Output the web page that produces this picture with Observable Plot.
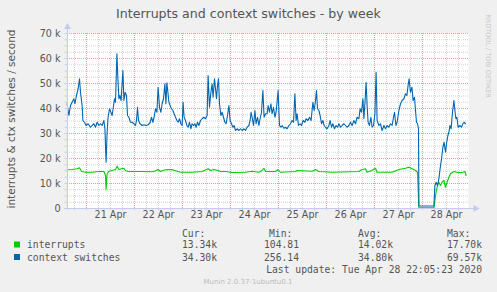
<!DOCTYPE html>
<html><head><meta charset="utf-8">
<script src="https://cdn.jsdelivr.net/npm/d3@7"></script>
<script src="https://cdn.jsdelivr.net/npm/@observablehq/plot@0.6"></script>
<style>
html,body{margin:0;padding:0;background:#f0f0f0;}
#chart{width:497px;height:292px;overflow:hidden}
</style></head><body><div id="chart"></div>
<script>
// hours since 2020-04-20 00:00 UTC, values in thousands per second
const ctxHours = [14.3,15.2,16,16.8,17.7,18.2,19,19.8,20.5,21,21.8,22.2,23,23.8,24.8,26,26.8,27.7,28.5,29.3,30.2,31,31.8,32.7,33.2,33.8,34.3,34.8,35.5,36.2,36.8,37.3,38,38.5,39.2,39.7,40.2,40.7,41.3,42.2,42.7,43.3,44,44.5,45.2,46,46.8,47.7,48.5,49,49.5,50,50.8,51.8,52.8,53.8,54.8,55.8,56.5,57.2,57.8,58.5,59.2,59.8,60.5,61.2,61.8,62.5,63.2,63.7,64.2,64.7,65.2,65.8,66.5,67.2,67.8,68.5,69.2,69.8,70.5,71.2,71.8,72.3,72.8,73.5,74.2,74.8,75.5,76.2,76.8,77.5,78.2,78.8,79.5,80.2,81,81.8,82.7,83.5,84.3,84.8,85.5,86.2,86.8,87.3,88,88.5,89,89.5,90,90.5,91.2,91.8,92.5,93.2,93.8,94.5,95.2,95.8,96.5,97.2,97.8,98.5,99.3,100.2,101,101.8,102.7,103.5,104.3,105.2,105.8,106.3,106.8,107.5,108.2,108.8,109.5,110.2,110.8,111.5,112.2,112.8,113.5,114.3,114.8,115.5,116.2,116.8,117.5,118.2,118.8,119.8,120.5,121.2,121.8,122.7,123.5,124.3,125.2,126,126.8,127.5,128.2,128.8,129.3,130,130.8,131.5,132.3,133.2,133.8,134.7,135.5,136.3,137.2,137.8,138.5,139,139.5,140.2,140.8,141.5,142.2,142.8,143.5,144.3,145.2,145.8,146.5,147.2,148,148.8,149.5,150.2,151,151.8,152.7,153.5,154.3,155.2,156,156.8,157.7,158.5,159.3,160.2,160.8,161.5,162.2,162.7,163.2,163.8,164.3,164.8,165.5,166.2,166.8,167.5,168.2,168.8,169.3,170.2,171,171.8,172.7,173.5,174.3,175.2,176,176.8,177.5,178,178.7,179.3,180.2,181,181.8,182.7,183.5,184.2,184.8,185.3,186,186.7,187.3,188,188.5,189,189.5,190,190.2,197.7,198.2,198.8,199.5,200.2,200.8,201.5,202.2,202.8,203.5,204,204.7,205.2,205.7,206.3,207,207.7,208.2,208.7,209.2,209.8,210.7,211.5,212.2,212.8,213.5];
const ctxValues = [41.9,37.2,41.2,42.5,43.9,41.9,45.2,47.9,51.9,46.5,41.2,35.2,34.5,33.2,33.9,32.5,33.2,33.9,32.5,34.5,33.2,33.9,33.2,35.2,31.9,18.5,30.5,36.5,39.9,38.5,37.2,39.9,43.9,42.5,61.9,51.9,43.9,45.2,43.2,55.2,43.2,46.5,45.2,37.2,36.5,34.5,34.5,33.9,33.2,35.2,40.5,35.2,33.9,33.2,33.5,33.2,33.5,34.3,36.5,34.5,36.5,39.9,38.5,48.5,40.5,38.5,41.9,43.9,49.9,41.9,50.3,46.5,42.5,41.2,39.9,39.2,37.9,36.5,35.2,34.5,35.9,33.9,33.2,42.5,36.5,35.2,33.2,32.5,34.5,31.9,33.9,33.2,33.9,32.5,34.5,33.2,35.2,35.9,36.5,35.9,37.2,53.2,40.5,46.5,49.9,44.5,51.9,47.9,43.9,49.2,51.9,41.9,37.2,38.5,36.5,34.5,33.9,37.2,41.2,35.2,33.9,32.5,33.2,31.2,31.9,31.2,31.9,31.2,31.9,31.2,32.5,33.2,35.2,38.5,36.5,33.2,39.2,33.9,36.5,33.2,35.9,38.5,47.2,36.5,37.9,37.9,41.2,38.5,41.9,37.9,40.5,36.5,38.5,47.2,33.2,32.5,33.2,32.1,32.5,31.9,33.2,33.9,35.2,34.5,45.9,35.2,37.9,33.2,33.9,33.2,35.2,34.5,35.9,35.2,36.5,35.2,42.5,39.2,43.2,47.2,39.9,39.2,37.2,33.9,35.2,33.2,32.5,31.9,33.2,35.2,32.5,33.9,31.9,33.2,32.5,33.9,32.5,33.2,33.9,33.2,32.5,33.2,34.5,33.2,35.2,33.9,36.5,35.9,39.9,38.5,43.9,35.9,41.9,50.5,41.2,34.5,33.2,36.5,32.5,33.2,37.9,54.5,35.2,33.2,33.9,31.2,33.2,31.9,33.2,32.5,33.9,33.2,36.5,38.5,33.2,34.5,39.2,41.9,43.2,43.9,45.9,45.2,49.2,51.9,46.5,48.5,43.2,44.5,39.2,34.5,33.9,31.9,1.0,1.0,9.2,10.5,9.2,11.9,15.9,19.9,24.5,26.5,22.5,25.9,29.2,30.5,33.2,31.9,38.5,43.2,39.2,35.9,36.5,32.5,33.2,32.5,33.9,34.5,33.9];
const intHours = [14.3,16.8,19.3,20.5,21.5,23.5,26.8,30.2,32.7,33.5,33.8,34.3,35.2,36.8,38.5,39.3,40.2,41.5,42.7,43.5,45.2,50.2,56.8,58.5,59.8,61,63.5,66.8,68.5,71,76.8,81.8,84.8,86,87.7,89.3,91,93.5,96.8,103.5,106.8,110.2,111.8,112.7,113.5,118.5,119.8,121,128.5,129.3,136.8,138.5,140.2,146.8,160.2,161.5,163.5,164.3,166.5,168.5,169.3,176.8,180.2,183.5,185.2,186.8,188.5,189.5,190.2,197.7,198.2,198.8,199.5,200.2,201,201.8,202.7,203.5,204.3,205.2,206,207.7,209.3,211,212.2,213.2,213.8];
const intValues = [15.5,15.6,15.9,16.3,14.8,14.5,14.5,14.8,14.8,13.2,7.6,13.9,14.9,15.2,15.6,16.9,15.6,15.9,16.1,15.1,14.8,14.8,14.7,15.1,15.6,14.8,15.5,15.6,15.1,14.5,14.5,14.8,15.9,15.2,15.6,15.3,14.8,14.8,14.4,14.5,14.9,14.5,15.2,16.1,14.8,14.8,15.6,14.5,14.8,15.2,14.9,15.6,14.8,14.5,14.8,15.5,15.9,14.5,15.2,16.1,14.5,14.5,15.6,16.1,16.5,15.9,15.2,14.5,0.3,0.3,3.2,6.5,9.2,10.5,9.2,10.5,11.2,8.5,10.5,12.5,13.9,14.8,14.5,14.3,14.5,14.8,13.2];
const dayLabels = ["21 Apr","22 Apr","23 Apr","24 Apr","25 Apr","26 Apr","27 Apr","28 Apr"];
const dayLabelHours = [36,60,84,108,132,156,180,204];
const yTickValues = [0,10000,20000,30000,40000,50000,60000,70000];
const yTickLabels = ["0","10 k","20 k","30 k","40 k","50 k","60 k","70 k"];
const seriesNames = ["interrupts","context switches"];
const seriesColors = ["#00CC00","#0066B3"];
const statHeaders = ["Cur:","Min:","Avg:","Max:"];
const statsInterrupts = ["13.34k","104.81","14.02k","17.70k"];
const statsCtx = ["34.30k","256.14","34.80k","69.57k"];
const titleText = "Interrupts and context switches - by week";
const yLabelText = "interrupts & ctx switches / second";
const lastUpdate = "Last update: Tue Apr 28 22:05:23 2020";
const creditText = "RRDTOOL / TOBI OETIKER";
const footerText = "Munin 2.0.37-1ubuntu0.1";

const t0 = Date.UTC(2020,3,20);
const toDate = h => new Date(t0 + h*3600e3);
const ctxData = ctxHours.map((h,i)=>({t:toDate(h), v:ctxValues[i]*1000}));
const intData = intHours.map((h,i)=>({t:toDate(h), v:intValues[i]*1000}));
const xDomain = [toDate(14.5), toDate(215)];
const minorX = d3.utcHour.every(6).range(xDomain[0], xDomain[1]);
const majorX = d3.utcDay.range(xDomain[0], xDomain[1]);
const minorY = d3.range(0, 70001, 2500);
const xLabels = dayLabels.map((l,i)=>({t:toDate(dayLabelHours[i]), label:l}));
const yLabels = yTickValues.map((v,i)=>({v, label:yTickLabels[i]}));
const axisColor = "#c4cbef";

const chart = Plot.plot({
  width:497, height:292,
  marginLeft:67, marginRight:29, marginTop:33, marginBottom:84,
  style:{background:"#f0f0f0", fontFamily:"DejaVu Sans", fontSize:"9.6px", color:"#555", overflow:"visible"},
  x:{type:"utc", domain:xDomain, axis:null},
  y:{domain:[0,70000], axis:null},
  marks:[
    Plot.frame({fill:"#fff", stroke:null}),
    Plot.gridY(minorY, {stroke:"#d2d2d2", strokeOpacity:1, strokeDasharray:"1,1"}),
    Plot.gridX(minorX, {stroke:"#d2d2d2", strokeOpacity:1, strokeDasharray:"1,1"}),
    Plot.gridY(yTickValues, {stroke:"#ee9a9a", strokeOpacity:1, strokeDasharray:"1,1"}),
    Plot.gridX(majorX, {stroke:"#ee9a9a", strokeOpacity:1, strokeDasharray:"1,1"}),
    Plot.line(intData, {x:"t", y:"v", stroke:seriesColors[0], strokeWidth:1.1}),
    Plot.line(ctxData, {x:"t", y:"v", stroke:seriesColors[1], strokeWidth:1.1}),
    Plot.ruleX([xDomain[0]], {y1:-800, y2:72200, stroke:axisColor}),
    Plot.ruleY([0], {x1:toDate(13), x2:toDate(218.5), stroke:axisColor}),
    Plot.ruleY(minorY, {x1:toDate(13.3), x2:toDate(14.5), stroke:axisColor}),
    Plot.ruleX(minorX, {y1:0, y2:-900, stroke:axisColor}),
    Plot.dot([xDomain[0]], {x:d=>d, y:72600, symbol:"triangle", r:2.6, fill:axisColor, stroke:null}),
    Plot.dot([toDate(218.5)], {x:d=>d, y:0, symbol:"triangle", rotate:90, r:2.6, fill:axisColor, stroke:null}),
    Plot.text(yLabels, {y:"v", text:"label", frameAnchor:"left", dx:-7, textAnchor:"end", fill:"#555"}),
    Plot.text(xLabels, {x:"t", text:"label", frameAnchor:"bottom", dy:9, fill:"#555"})
  ]
});
document.getElementById("chart").appendChild(chart);

const svg = d3.select(chart);
svg.append("text").attr("x",248.5).attr("y",13).attr("text-anchor","middle").attr("dominant-baseline","central")
  .attr("font-family","DejaVu Sans").attr("font-size","12.6px").attr("fill","#555").text(titleText);
svg.append("text").attr("transform","translate(11,119) rotate(-90)").attr("text-anchor","middle").attr("dominant-baseline","central")
  .attr("font-family","DejaVu Sans").attr("font-size","10.5px").attr("fill","#555").text(yLabelText);
svg.append("text").attr("transform","translate(488,56) rotate(90)").attr("text-anchor","middle").attr("dominant-baseline","central")
  .attr("font-family","DejaVu Sans").attr("font-size","6.5px").attr("fill","#c8c8c8").text(creditText);

const mono = "DejaVu Sans Mono";
const colX = [182,269,358,447];
const valX = [182,264,358,447];
const lg = svg.append("g").attr("font-family",mono).attr("font-size","9.7px").attr("fill","#555").attr("text-anchor","start");
statHeaders.forEach((h,i)=>lg.append("text").attr("x",colX[i]).attr("y",233.5).attr("text-anchor","start").attr("dominant-baseline","central").text(h));
const rows = [statsInterrupts, statsCtx];
seriesNames.forEach((name,r)=>{
  const y = 244.5 + r*12.5;
  lg.append("rect").attr("x",14).attr("y",y-3).attr("width",6).attr("height",6).attr("fill",seriesColors[r]);
  lg.append("text").attr("x",27).attr("y",y).attr("text-anchor","start").attr("dominant-baseline","central").text(name);
  rows[r].forEach((v,i)=>lg.append("text").attr("x",valX[i]).attr("y",y).attr("text-anchor","start").attr("dominant-baseline","central").text(v));
});
lg.append("text").attr("x",482).attr("y",269.5).attr("text-anchor","end").attr("dominant-baseline","central").text(lastUpdate);
svg.append("text").attr("x",248).attr("y",282).attr("text-anchor","middle").attr("dominant-baseline","central")
  .attr("font-family","DejaVu Sans").attr("font-size","7px").attr("fill","#bbb").text(footerText);
</script></body></html>
